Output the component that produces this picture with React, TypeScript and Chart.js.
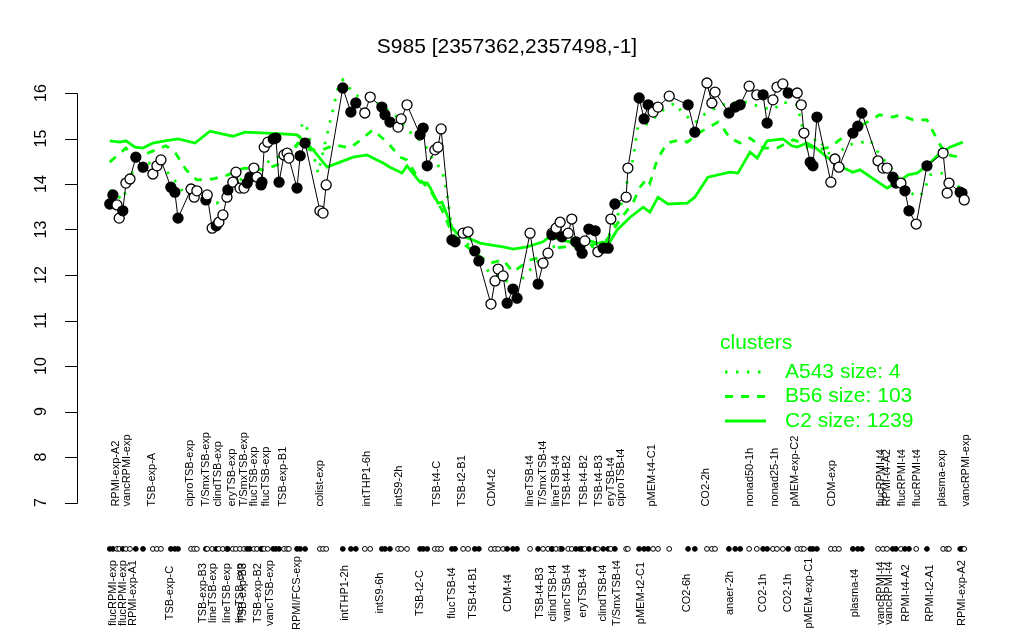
import React, { useEffect, useRef } from "react";
import { Chart, registerables } from "chart.js";

Chart.register(...registerables);

const TITLE = "S985 [2357362,2357498,-1]";

// sample positions (index units), expression values, filled marker flag
const sampleX = [
  7.3, 8.0, 8.9, 9.4, 10.2, 10.9, 11.8, 13.1, 14.7, 16.9, 17.8, 18.7, 20.9, 21.8, 22.5, 25.4, 26.1, 26.7, 28.7, 29.0,
  30.1, 31.0, 31.6, 32.5, 33.4, 33.6, 34.7, 35.4, 36.3, 37.2, 37.9, 38.5, 39.4, 40.1, 41.0, 41.2, 41.7, 42.5, 43.7, 44.3,
  45.0, 46.1, 46.8, 47.2, 49.0, 49.7, 50.8, 54.1, 54.8, 55.5, 59.2, 61.0, 62.1, 64.1, 65.3, 67.9, 68.6, 69.7, 71.5, 72.2,
  73.5, 76.4, 77.1, 78.0, 79.7, 80.4, 81.1, 83.5, 84.2, 86.0, 87.1, 88.6, 89.5, 92.2, 93.1, 93.8, 94.9, 95.8, 97.1, 98.0,
  100.9, 102.7, 103.8, 104.9, 105.8, 105.8, 106.7, 107.6, 108.0, 109.4, 110.2, 111.1, 112.0, 112.5, 113.1, 114.0, 115.4, 116.0, 117.2, 118.3,
  118.9, 119.8, 122.3, 122.7, 125.2, 126.3, 127.2, 128.3, 129.4, 131.9, 136.1, 137.6, 140.3, 141.4, 142.1, 145.2, 146.6, 147.7, 149.7, 151.4,
  152.8, 153.7, 155.0, 155.9, 157.2, 158.4, 160.4, 161.3, 161.9, 163.3, 163.9, 164.8, 167.9, 168.8, 169.7, 172.8, 173.9, 174.8, 178.4, 179.5,
  180.4, 181.7, 182.4, 183.5, 184.4, 185.3, 186.9, 189.3, 192.9, 193.8, 194.2, 196.7, 197.1, 197.6,
];
const sampleY = [
  13.56, 13.76, 13.54, 13.25, 13.41, 14.02, 14.11, 14.59, 14.37, 14.22, 14.4, 14.53, 13.93, 13.82, 13.25, 13.89, 13.71, 13.85, 13.65, 13.76,
  13.03, 13.08, 13.16, 13.32, 13.71, 13.87, 14.04, 14.26, 13.91, 13.91, 14.02, 14.15, 14.35, 14.15, 13.98, 14.04, 14.81, 14.92, 14.99, 15.01,
  14.04, 14.64, 14.68, 14.57, 13.91, 14.62, 14.9, 13.41, 13.36, 13.98, 16.11, 15.58, 15.78, 15.56, 15.91, 15.69, 15.52, 15.36, 15.25, 15.43,
  15.74, 15.08, 15.23, 14.4, 14.75, 14.81, 15.21, 12.77, 12.73, 12.92, 12.95, 12.53, 12.31, 11.36, 11.87, 12.13, 11.98, 11.38, 11.69, 11.49,
  12.92, 11.8, 12.26, 12.48, 12.92, 12.88, 13.03, 13.16, 12.84, 12.92, 13.23, 12.73, 12.62, 12.48, 12.75, 13.01, 12.97, 12.51, 12.59, 12.59,
  13.23, 13.56, 13.71, 14.35, 15.89, 15.43, 15.74, 15.58, 15.69, 15.93, 15.74, 15.14, 16.22, 15.78, 16.02, 15.56, 15.69, 15.74, 16.15, 15.96,
  15.96, 15.34, 15.85, 16.13, 16.2, 16.0, 16.0, 15.74, 15.12, 14.48, 14.4, 15.47, 14.04, 14.55, 14.37, 15.12, 15.27, 15.56, 14.51, 14.35,
  14.35, 14.15, 14.02, 14.02, 13.85, 13.41, 13.12, 14.4, 14.68, 13.8, 14.02, 13.82, 13.8, 13.65,
];
const sampleFilled = [
  1, 1, 0, 0, 1, 0, 0, 1, 1, 0, 0, 0, 1, 1, 1, 0, 0, 0, 1, 0,
  0, 1, 0, 0, 0, 1, 0, 0, 0, 0, 1, 1, 0, 0, 1, 1, 0, 0, 1, 1,
  1, 0, 0, 0, 1, 1, 1, 0, 0, 0, 1, 1, 1, 0, 0, 1, 1, 1, 0, 0,
  0, 1, 1, 1, 0, 0, 0, 1, 1, 0, 0, 1, 1, 0, 0, 0, 0, 1, 1, 1,
  0, 1, 0, 0, 0, 1, 0, 0, 1, 0, 0, 1, 1, 1, 0, 1, 1, 0, 1, 1,
  0, 1, 0, 0, 1, 1, 1, 0, 0, 0, 1, 1, 0, 0, 0, 1, 1, 1, 0, 0,
  1, 1, 0, 0, 0, 1, 0, 0, 0, 1, 1, 1, 0, 0, 0, 1, 1, 1, 0, 0,
  0, 1, 1, 0, 1, 1, 0, 1, 0, 0, 0, 1, 1, 0,
];

// cluster profiles
const c2X = [
  7.3, 9.6, 10.9, 12.9, 14.7, 16.9, 19.6, 22.5, 26.3, 29.6, 32.3, 34.7, 37.4, 42.3, 45.7, 49.0, 50.3, 52.6, 55.7, 58.6,
  61.5, 64.6, 66.8, 68.2, 69.7, 72.4, 73.5, 76.4, 78.0, 78.6, 80.4, 81.3, 83.5, 84.6, 87.1, 89.8, 92.0, 94.9, 97.1, 100.2,
  103.8, 105.4, 107.6, 109.8, 111.6, 113.6, 115.8, 118.7, 120.3, 123.2, 126.1, 127.6, 129.4, 131.6, 135.9, 137.6, 140.5, 145.4, 147.2, 149.9,
  151.5, 153.7, 155.5, 157.2, 159.2, 160.4, 162.6, 164.6, 167.0, 170.4, 172.8, 174.4, 180.4, 183.3, 185.1, 187.1, 189.3, 191.8, 194.4, 197.3,
];
const c2Y = [
  14.95, 14.92, 14.95, 14.81, 14.79, 14.9, 14.95, 14.99, 14.9, 15.16, 15.1, 15.05, 15.14, 15.12, 15.1, 15.08, 14.97, 14.75, 14.37, 14.48,
  14.59, 14.64, 14.53, 14.46, 14.37, 14.24, 14.4, 14.04, 14.02, 13.93, 13.58, 13.6, 13.05, 12.92, 12.81, 12.7, 12.66, 12.62, 12.57, 12.62,
  12.73, 12.86, 12.77, 12.73, 12.55, 12.77, 12.7, 12.73, 12.99, 13.27, 13.49, 13.38, 13.71, 13.56, 13.58, 13.71, 14.15, 14.26, 14.24, 14.7,
  14.57, 14.95, 14.97, 14.99, 14.84, 14.81, 14.9, 14.79, 14.59, 14.37, 14.26, 14.31, 13.91, 14.07, 14.2, 14.24, 14.4, 14.64, 14.81, 14.92,
];
const b56X = [
  7.3, 9.1, 10.9, 12.9, 16.3, 19.8, 21.8, 24.3, 26.7, 30.1, 33.6, 37.2, 41.4, 45.7, 49.2, 51.9, 54.6, 57.5, 60.8, 63.7,
  65.9, 69.3, 71.9, 73.5, 76.0, 78.6, 81.3, 83.5, 86.4, 89.8, 92.0, 94.9, 97.1, 98.7, 100.9, 103.8, 106.0, 109.1, 112.0, 114.9,
  118.0, 120.9, 123.8, 125.4, 127.0, 127.6, 129.2, 131.4, 134.3, 135.9, 138.8, 142.8, 143.9, 145.4, 147.7, 149.9, 152.8, 155.9, 159.5, 161.7,
  164.8, 167.7, 170.4, 172.8, 176.0, 178.8, 181.7, 183.3, 186.2, 189.3, 192.2, 193.8, 196.7,
];
const b56Y = [
  14.48, 14.64, 14.79, 14.57, 14.7, 14.84, 14.7, 14.31, 14.09, 14.11, 14.2, 14.35, 14.31, 14.46, 14.9, 14.75, 14.75, 14.86, 14.79, 15.01,
  15.19, 14.9, 14.59, 14.53, 14.13, 13.87, 13.43, 12.92, 12.66, 12.4, 12.26, 12.33, 12.07, 12.18, 12.33, 12.4, 12.59, 12.62, 12.66, 12.66,
  12.77, 13.21, 13.58, 13.93, 14.13, 14.02, 14.53, 14.9, 14.97, 14.92, 15.14, 15.36, 15.23, 15.01, 14.9, 15.01, 14.79, 14.79, 14.97, 14.9,
  14.75, 14.81, 15.01, 15.19, 15.36, 15.52, 15.47, 15.52, 15.41, 15.41, 14.86, 14.64, 14.59,
];
const a543X = [
  7.3, 10.2, 12.5, 14.7, 18.5, 21.4, 24.1, 27.4, 31.2, 33.6, 36.3, 40.8, 43.0, 46.3, 48.6, 50.3, 51.2, 53.7, 57.0, 58.1,
  59.2, 61.9, 66.8, 70.8, 74.2, 77.5, 79.3, 81.3, 82.4, 83.5, 86.4, 89.3, 92.0, 94.2, 97.6, 100.9, 104.7, 109.1, 112.0, 114.9,
  118.0, 120.9, 123.8, 124.9, 127.6, 129.8, 133.2, 134.7, 137.6, 140.3, 144.8, 149.2, 152.1, 155.0, 157.2, 160.4, 162.6, 164.8, 167.0, 168.4,
  171.5, 174.4, 176.6, 178.8, 181.7, 184.9, 187.1, 188.4, 190.0, 192.9, 196.7,
];
const a543Y = [
  13.87, 13.65, 14.31, 14.48, 14.42, 14.13, 13.76, 13.87, 13.58, 13.87, 14.09, 14.31, 14.53, 14.64, 14.75, 15.36, 15.23, 14.24, 15.63, 16.11,
  16.29, 15.96, 15.78, 15.52, 15.14, 14.86, 14.53, 14.31, 13.8, 12.99, 12.77, 12.37, 12.04, 11.96, 11.74, 12.11, 12.51, 12.84, 12.7, 12.62,
  12.77, 13.43, 14.53, 15.25, 15.34, 15.58, 15.78, 15.58, 15.34, 15.58, 15.78, 15.8, 15.69, 15.63, 15.8, 15.74, 14.81, 15.01, 14.75, 14.53,
  14.86, 14.9, 14.97, 14.64, 14.31, 13.87, 13.71, 13.8, 14.2, 14.24, 13.91,
];

// sample-group labels: upper row and lower row
const topLabels = [
  "RPMI-exp-A2", "vancRPMI-exp", "TSB-exp-A", "ciproTSB-exp", "T/SmxTSB-exp", "clindTSB-exp", "eryTSB-exp", "T/SmxTSB-exp",
  "flucTSB-exp", "flucTSB-exp", "TSB-exp-B1", "colist-exp", "intTHP1-6h", "intS9-2h", "TSB-t4-C", "TSB-t2-B1", "CDM-t2",
  "lineTSB-t4", "T/SmxTSB-t4", "lineTSB-t4", "TSB-t4-B2", "TSB-t4-B2", "TSB-t4-B3", "eryTSB-t4", "ciproTSB-t4", "pMEM-t4-C1",
  "CO2-2h", "nonad50-1h", "nonad25-1h", "pMEM-exp-C2", "CDM-exp", "flucRPMI-t4", "RPMI-t4-A2", "flucRPMI-t4", "flucRPMI-t4",
  "plasma-exp", "vancRPMI-exp",
];
const topLabelX = [
  8.7, 11.1, 16.7, 25.2, 28.7, 31.4, 34.5, 37.2, 39.4, 42.1, 45.9, 54.1, 64.6, 71.7, 80.2, 85.8, 92.4,
  100.9, 103.8, 106.7, 109.1, 112.9, 116.3, 118.9, 121.2, 128.1, 140.1, 149.9, 155.5, 159.9, 168.2, 179.1, 180.4, 183.7, 187.1,
  192.7, 198.0,
];
const bottomLabels = [
  "flucRPMI-exp", "flucRPMI-exp", "RPMI-exp-A1", "TSB-exp-C", "TSB-exp-B3", "lineTSB-exp", "lineTSB-exp", "lineTSB-exp",
  "TSB-exp-B3", "TSB-exp-B2", "vancTSB-exp", "RPMI/FCS-exp", "intTHP1-2h", "intS9-6h", "TSB-t2-C", "flucTSB-t4", "TSB-t4-B1",
  "CDM-t4", "TSB-t4-B3", "clindTSB-t4", "vancTSB-t4", "eryTSB-t4", "clindTSB-t4", "T/SmxTSB-t4", "pMEM-t2-C1", "CO2-6h",
  "anaer-2h", "CO2-1h", "CO2-1h", "pMEM-exp-C1", "plasma-t4", "vancRPMI-t4", "vancRPMI-t4", "RPMI-t4-A2", "RPMI-t2-A1",
  "RPMI-exp-A2",
];
const bottomLabelX = [
  8.0, 10.2, 12.5, 20.7, 28.1, 30.3, 33.4, 36.3, 37.0, 40.3, 43.0, 49.0, 59.7, 67.5, 76.4, 83.5, 88.2,
  96.0, 103.1, 106.0, 109.1, 112.7, 117.2, 120.3, 125.6, 135.9, 145.4, 152.8, 158.4, 163.0, 173.3, 179.1, 180.9, 184.6, 190.0,
  197.1,
];

const yTicks = [7, 8, 9, 10, 11, 12, 13, 14, 15, 16];
const legendTitle = "clusters";
const legendNames = ["A543 size: 4", "B56 size: 103", "C2 size: 1239"];

const GREEN = "#00ff00";
const FONT = '"Liberation Sans", Arial, Helvetica, sans-serif';
const DOT_ROW_Y = 5.98;
const TOP_LABEL_Y = 6.91;
const BOTTOM_LABEL_Y = 5.01;
const lineDashes = [[2.5, 8.5], [8, 8], []];

const decorPlugin = {
  id: "rdecor",
  afterDraw(chart: any) {
    const { ctx, scales } = chart;
    const xs = scales.x;
    const ys = scales.y;
    ctx.save();
    // title
    ctx.fillStyle = "#000";
    ctx.font = `21px ${FONT}`;
    ctx.textAlign = "center";
    ctx.textBaseline = "middle";
    ctx.fillText(TITLE, 507, 47);

    // y axis
    const ax = 77;
    ctx.strokeStyle = "#000";
    ctx.lineWidth = 1;
    ctx.beginPath();
    ctx.moveTo(ax + 0.5, Math.round(ys.getPixelForValue(yTicks[0])) + 0.5);
    ctx.lineTo(ax + 0.5, Math.round(ys.getPixelForValue(yTicks[yTicks.length - 1])) + 0.5);
    for (const t of yTicks) {
      const py = Math.round(ys.getPixelForValue(t)) + 0.5;
      ctx.moveTo(ax + 0.5, py);
      ctx.lineTo(ax - 12, py);
    }
    ctx.stroke();
    ctx.font = `16px ${FONT}`;
    for (const t of yTicks) {
      const py = ys.getPixelForValue(t);
      ctx.save();
      ctx.translate(42, py);
      ctx.rotate(-Math.PI / 2);
      ctx.fillText(String(t), 0, 0);
      ctx.restore();
    }

    // sample labels
    ctx.font = `11px ${FONT}`;
    const drawRow = (labels: string[], xsVals: number[], yVal: number, align: string) => {
      const py = ys.getPixelForValue(yVal);
      ctx.textAlign = align;
      labels.forEach((lab, i) => {
        const px = xs.getPixelForValue(xsVals[i]);
        ctx.save();
        ctx.translate(px, py);
        ctx.rotate(-Math.PI / 2);
        ctx.fillText(lab, 0, 0);
        ctx.restore();
      });
    };
    drawRow(topLabels, topLabelX, TOP_LABEL_Y, "left");
    drawRow(bottomLabels, bottomLabelX, BOTTOM_LABEL_Y, "center");

    // legend
    ctx.fillStyle = GREEN;
    ctx.strokeStyle = GREEN;
    ctx.font = `21px ${FONT}`;
    ctx.textAlign = "left";
    ctx.fillText(legendTitle, 720, 343);
    legendNames.forEach((name, i) => {
      const py = 372 + i * 24.5;
      ctx.setLineDash(lineDashes[i]);
      ctx.lineWidth = 2.8;
      ctx.beginPath();
      ctx.moveTo(725, py);
      ctx.lineTo(766, py);
      ctx.stroke();
      ctx.setLineDash([]);
      ctx.fillText(name, 785, py);
    });
    ctx.restore();
  },
};

export default function App() {
  const ref = useRef<HTMLCanvasElement | null>(null);
  useEffect(() => {
    if (!ref.current) return;
    const pts = sampleX.map((x, i) => ({ x, y: sampleY[i] }));
    const fills = sampleFilled.map((f) => (f ? "#000000" : "#ffffff"));
    const mk = (xsv: number[], ysv: number[]) => xsv.map((x, i) => ({ x, y: ysv[i] }));
    const greenSet = (label: string, data: any[], dash: number[]) => ({
      label,
      data,
      showLine: true,
      borderColor: GREEN,
      borderWidth: 2.8,
      borderDash: dash,
      pointRadius: 0,
      fill: false,
      tension: 0,
      clip: false as any,
      order: 2,
    });
    const chart = new Chart(ref.current, {
      type: "scatter",
      data: {
        datasets: [
          greenSet("A543", mk(a543X, a543Y), lineDashes[0]),
          greenSet("B56", mk(b56X, b56Y), lineDashes[1]),
          greenSet("C2", mk(c2X, c2Y), lineDashes[2]),
          {
            label: "S985",
            data: pts,
            showLine: true,
            borderColor: "#000",
            borderWidth: 1,
            pointRadius: 5,
            pointBorderWidth: 1.3,
            pointBorderColor: "#000",
            pointBackgroundColor: fills,
            tension: 0,
            clip: false as any,
            order: 1,
          } as any,
          {
            label: "samples",
            data: sampleX.map((x) => ({ x, y: DOT_ROW_Y })),
            showLine: false,
            pointRadius: 2.4,
            pointBorderWidth: 1,
            pointBorderColor: "#000",
            pointBackgroundColor: fills,
            clip: false as any,
            order: 1,
          } as any,
        ],
      },
      options: {
        responsive: false,
        animation: false,
        devicePixelRatio: 1,
        layout: { padding: { left: 77, right: 49, top: 70.25, bottom: 23.75 } },
        scales: {
          x: { type: "linear", min: 0, max: 200, display: false },
          y: { type: "linear", min: 4.5, max: 16.5, display: false },
        },
        plugins: { legend: { display: false }, tooltip: { enabled: false }, title: { display: false } },
      },
      plugins: [decorPlugin],
    });
    return () => chart.destroy();
  }, []);
  return (
    <div style={{ position: "absolute", left: 0, top: 0, width: 1024, height: 640, background: "#fff" }}>
      <canvas ref={ref} width={1024} height={640} style={{ width: 1024, height: 640 }} />
    </div>
  );
}
